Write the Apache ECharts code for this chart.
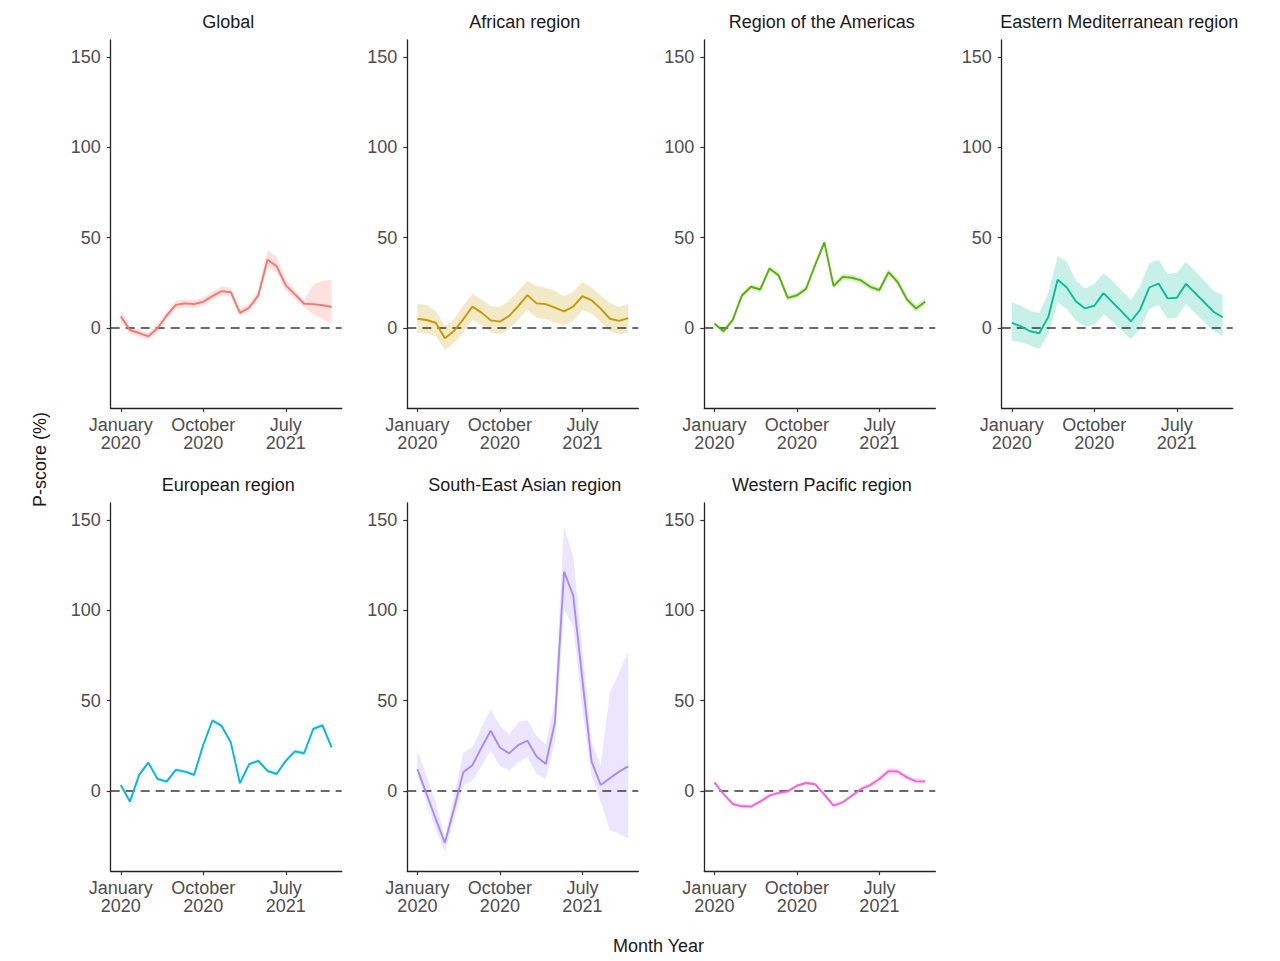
<!DOCTYPE html>
<html>
<head>
<meta charset="utf-8">
<script src="https://cdn.jsdelivr.net/npm/echarts@6/dist/echarts.min.js"></script>
<style>html,body{margin:0;padding:0;background:#fff}#c{width:1280px;height:961px}</style>
</head>
<body>
<div id="c"></div>
<script>
// Months: index 0 = January 2020 ... 23 = December 2021
var regions = ["Global", "African region", "Region of the Americas", "Eastern Mediterranean region",
  "European region", "South-East Asian region", "Western Pacific region"];
var colors = ["#F8766D", "#C49A00", "#53B400", "#00C094", "#00B6EB", "#A58AFF", "#FB61D7"];
var xTickMonths = [0, 9, 18];
var xTickLabels = ["January\n2020", "October\n2020", "July\n2021"];
var yTicks = [0, 50, 100, 150];

var globalVal = [6.4, -1.2, -2.8, -4.7, -0.2, 6.8, 12.8, 13.6, 13.2, 14.5, 17.6, 20.4, 19.8, 8.4, 11.2, 18, 37.8, 34.2, 23.6, 18.6, 13.4, 13.2, 12.6, 11.6];
var globalLo  = [3.5, -3.5, -4.8, -6.5, -2.5, 4.5, 10.5, 11.5, 11, 12.3, 15.3, 18, 17.5, 6.5, 9.2, 15.5, 33.5, 31, 21, 16, 11.5, 7.5, 5, 2.5];
var globalHi  = [9.5, 1, -0.8, -2.8, 2, 9, 15, 15.8, 15.4, 16.8, 20, 23, 22.3, 10.4, 13.3, 20.5, 43, 39.5, 26.5, 21, 15.5, 24, 26, 26.7];

var africaVal = [5.1, 4.4, 2.9, -5.7, -1.7, 4.8, 11.8, 8.5, 4.2, 3.5, 6.6, 12.1, 18.2, 13.6, 13.2, 11.2, 9.2, 11.8, 17.6, 15.3, 10.7, 5.1, 3.9, 5.5];
var africaLo  = [-2.6, -3, -4.5, -12, -8.5, -2.5, 4.5, 1.5, -2.5, -3.5, -0.5, 4.5, 10, 5.5, 5, 3, 1.5, 4, 10, 8, 3.5, -2, -3.5, -2.5];
var africaHi  = [13.4, 12.7, 9.4, 1.1, 4.8, 12.1, 19.1, 15.8, 12.1, 11.8, 14.9, 20.4, 26.3, 23.2, 22.2, 20.4, 17.6, 19.9, 25.4, 22.2, 18, 14, 11.8, 13.4];

var americasVal = [2.4, -1.8, 4.4, 18, 22.8, 21.3, 32.9, 29.2, 16.7, 18, 21.7, 35, 47.4, 23.2, 28.3, 27.8, 26.3, 22.8, 21, 30.9, 25.4, 15.8, 10.8, 14.5];
var americasLo  = [1, -3.2, 3, 16.6, 21.3, 19.8, 31.4, 27.7, 15.2, 16.5, 20.2, 33.5, 45.9, 21.6, 26.6, 26.1, 24.6, 21.1, 19.3, 29.1, 23.6, 14, 9, 12.6];
var americasHi  = [3.8, -0.4, 5.8, 19.4, 24.3, 22.8, 34.4, 30.7, 18.2, 19.5, 23.2, 36.5, 48.9, 24.8, 30, 29.5, 28, 24.5, 22.7, 32.7, 27.2, 17.6, 12.6, 16.4];

var emedVal = [2.8, 0.9, -1.8, -2.9, 6.3, 26.7, 22.4, 14.7, 10.8, 12.3, 19.3, 14.2, 9, 3.7, 10.1, 22.4, 24.6, 16.4, 16.7, 24.4, 19.3, 14.2, 9, 5.9];
var emedLo  = [-7, -7.9, -9.7, -11.6, -3.3, 14.2, 10.5, 4, 0.9, 1.7, 7.7, 3.5, -1.5, -6.1, -0.6, 10.5, 12.7, 5.3, 5.9, 13.2, 8.3, 3.1, -1.5, -4.6];
var emedHi  = [14.2, 12.3, 9.6, 8.3, 19.7, 39.9, 36.6, 26.1, 21.9, 24.3, 30.3, 26.1, 20.6, 15.6, 23.3, 35.8, 37.7, 29.8, 30.7, 36.6, 31.6, 26.1, 20.6, 18.2];

var europeVal = [3.3, -5.9, 8.9, 15.7, 6.7, 5.2, 11.7, 10.7, 8.9, 25.6, 39, 36, 26.9, 4.3, 14.8, 16.7, 11.1, 9.4, 16.7, 21.9, 20.9, 34.4, 36.3, 24.1];
var europeLo  = [2.3, -6.9, 7.9, 14.7, 5.7, 4.2, 10.7, 9.7, 7.9, 24.5, 37.8, 34.8, 25.8, 3.3, 13.8, 15.7, 10.1, 8.4, 15.6, 20.7, 19.7, 33.1, 35, 22.7];
var europeHi  = [4.3, -4.9, 9.9, 16.7, 7.7, 6.2, 12.7, 11.7, 9.9, 26.7, 40.2, 37.2, 28, 5.3, 15.8, 17.7, 12.1, 10.4, 17.8, 23.1, 22.1, 35.7, 37.6, 25.5];

var seasiaVal = [12.1, -1.7, -15.4, -28.7, -9.9, 10.3, 14.3, 24.1, 33.3, 24.1, 20.8, 25.4, 27.8, 19.1, 14.9, 37.9, 121.5, 108.1, 61.8, 16.4, 3.3, 7, 10.7, 13.6];
var seasiaLo  = [8.5, -6.3, -21, -33.8, -15.4, 2.9, 5.7, 14, 22.2, 14, 11.2, 15.8, 18.6, 9.4, 6.6, 26.8, 100.4, 91.2, 45.2, 8.5, -6, -21.9, -23.7, -26.5];
var seasiaHi  = [22.8, 8.5, -6.3, -25.6, -2.6, 21.3, 24.1, 35.1, 45.2, 36, 31.4, 37.9, 39.3, 30.5, 25.9, 48.9, 146.3, 129.8, 78.3, 26.8, 14, 54.4, 65.4, 77.4];

var wpacVal = [4.8, -1.7, -7.2, -8.5, -8.6, -5.9, -2.6, -1.1, -0.2, 2.9, 4.4, 3.7, -2, -8.1, -6.3, -2.6, 1.1, 3.3, 6.6, 11, 10.8, 7.5, 5.3, 5.3];
var wpacLo  = [3.8, -2.7, -8.2, -9.5, -9.6, -6.9, -3.6, -2.1, -1.2, 1.9, 3.4, 2.7, -3, -9.1, -7.3, -3.6, 0, 2, 5.1, 9.2, 9.2, 6.1, 4, 4];
var wpacHi  = [5.8, -0.7, -6.2, -7.5, -7.6, -4.9, -1.6, -0.1, 0.8, 3.9, 5.4, 4.7, -1, -7.1, -5.3, -1.6, 2.2, 4.6, 8.1, 12.8, 12.4, 8.9, 6.6, 6.6];

var vals = [globalVal, africaVal, americasVal, emedVal, europeVal, seasiaVal, wpacVal];
var los  = [globalLo, africaLo, americasLo, emedLo, europeLo, seasiaLo, wpacLo];
var his  = [globalHi, africaHi, americasHi, emedHi, europeHi, seasiaHi, wpacHi];

function hexA(hex, a) {
  var r = parseInt(hex.substr(1, 2), 16), g = parseInt(hex.substr(3, 2), 16), b = parseInt(hex.substr(5, 2), 16);
  return 'rgba(' + r + ',' + g + ',' + b + ',' + a + ')';
}

var FONT = '"Liberation Sans", Arial, Helvetica, sans-serif';
var panelLeft = [110.7, 407.3, 704.3, 1001.7];
var panelW = 231;
var rowTop = [40, 503];
var panelH = 368;

var grids = [], xAxes = [], yAxes = [], series = [], titles = [];
for (var i = 0; i < regions.length; i++) {
  var row = i < 4 ? 0 : 1;
  var col = i < 4 ? i : i - 4;
  var L = panelLeft[col], T = rowTop[row];
  grids.push({ left: L, top: T, width: panelW, height: panelH, containLabel: false });
  xAxes.push({
    gridIndex: i, type: 'value', min: -1.1, max: 24.1,
    splitLine: { show: false },
    axisLine: { show: true, onZero: false, lineStyle: { color: '#222', width: 1.3 } },
    axisTick: { show: true, length: 4, customValues: xTickMonths, lineStyle: { color: '#333', width: 1.2 } },
    axisLabel: {
      customValues: xTickMonths, margin: 8, color: '#4d4d4d', fontSize: 18, lineHeight: 18, fontFamily: FONT,
      formatter: function (v) { var k = xTickMonths.indexOf(Math.round(v)); return k >= 0 ? xTickLabels[k] : ''; }
    }
  });
  yAxes.push({
    gridIndex: i, type: 'value', min: -44.3, max: 159.4,
    splitLine: { show: false },
    axisLine: { show: true, onZero: false, lineStyle: { color: '#222', width: 1.3 } },
    axisTick: { show: true, length: 4, customValues: yTicks, lineStyle: { color: '#333', width: 1.2 } },
    axisLabel: { customValues: yTicks, margin: 10, color: '#4d4d4d', fontSize: 18, fontFamily: FONT }
  });
  titles.push({
    text: regions[i], left: L + panelW / 2 + 2, top: T - 27, textAlign: 'center', padding: 0,
    textStyle: { fontSize: 18, fontWeight: 'normal', color: '#1a1a1a', fontFamily: FONT }
  });
  var lo = los[i], hi = his[i], v = vals[i];
  var bandData = [], lineData = [];
  for (var m = 0; m < v.length; m++) {
    bandData.push([m, lo[m], hi[m]]);
    lineData.push([m, v[m]]);
  }
  (function (bd, fill) {
    series.push({
      type: 'custom', xAxisIndex: i, yAxisIndex: i, data: bd, z: 1, silent: true,
      encode: { x: 0, y: [1, 2] }, clip: true,
      renderItem: function (params, api) {
        if (params.dataIndex !== 0) return null;
        var top = [], bot = [];
        for (var k = 0; k < bd.length; k++) {
          top.push(api.coord([bd[k][0], bd[k][2]]));
          bot.unshift(api.coord([bd[k][0], bd[k][1]]));
        }
        return { type: 'polygon', shape: { points: top.concat(bot) }, style: { fill: fill, stroke: null } };
      }
    });
  })(bandData, hexA(colors[i], 0.22));
  series.push({
    type: 'line', xAxisIndex: i, yAxisIndex: i, data: lineData, symbol: 'none',
    lineStyle: { color: colors[i], width: 1.9 }, z: 3,
    markLine: {
      silent: true, symbol: ['none', 'none'], label: { show: false },
      lineStyle: { color: '#3a3a3a', width: 1.6, type: [9, 6] },
      data: [{ yAxis: 0 }], z: 2
    }
  });
}

var chart = echarts.init(document.getElementById('c'), null, { renderer: 'svg' });
chart.setOption({
  backgroundColor: '#fff',
  animation: false,
  title: titles,
  grid: grids,
  xAxis: xAxes,
  yAxis: yAxes,
  series: series,
  graphic: [
    { type: 'text', left: 31, top: 412, rotation: Math.PI / 2,
      style: { text: 'P-score (%)', fontSize: 18, fill: '#1a1a1a', fontFamily: FONT } },
    { type: 'text', left: 613, top: 937,
      style: { text: 'Month Year', fontSize: 18, fill: '#1a1a1a', fontFamily: FONT } }
  ]
});
</script>
</body>
</html>
